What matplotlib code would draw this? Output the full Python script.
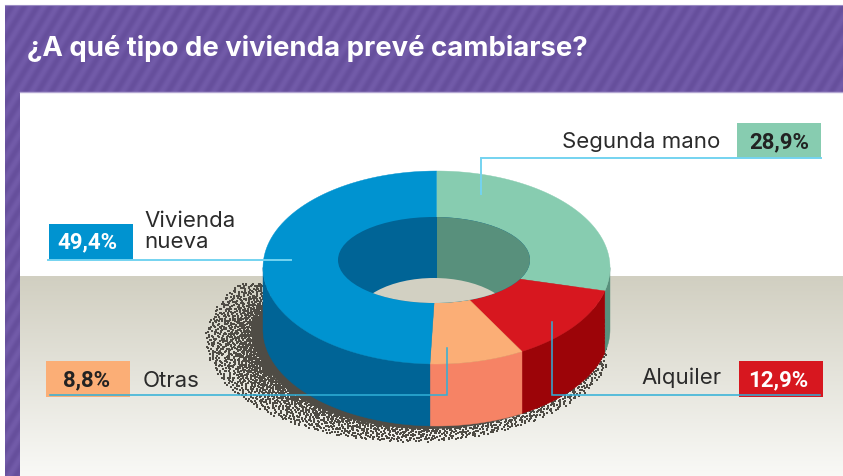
import numpy as np
import matplotlib
matplotlib.use('Agg')
import matplotlib.pyplot as plt
from matplotlib.patches import Ellipse, Rectangle

# chart values
titulo = '¿A qué tipo de vivienda prevé cambiarse?'
categorias = ['Segunda mano', 'Alquiler', 'Otras', 'Vivienda\nnueva']
valores = [28.9, 12.9, 8.8, 49.4]
etiquetas = ['28,9%', '12,9%', '8,8%', '49,4%']

col_top = ['#87ccb0', '#d7171f', '#fbae76', '#0093d0']
col_side = ['#58907c', '#9c0408', '#f68365', '#006496']

# ring geometry in pixels
CX, CY, A, B = 436.5, 267.5, 173.5, 96.5
HX, HY, HA, HB = 434, 260, 96, 43
DEPTH = 62


def arc(t0, t1, dy=0):
    t = np.radians(np.linspace(t0, t1, 80))
    return CX + A * np.sin(t), CY - B * np.cos(t) + dy


def corput(n, base):
    # van der Corput sequence, only used for the speckle texture
    out = np.zeros(len(n))
    f = 1.0 / base
    n = n.copy()
    while n.max() > 0:
        out += f * (n % base)
        n = n // base
        f /= base
    return out


fig = plt.figure(figsize=(8.43, 4.76), dpi=100)
ax = fig.add_axes([0, 0, 1, 1])

# purple frame, soft diagonal stripes
yy, xx = np.mgrid[0:471, 0:838]
onda = 0.5 + 0.5 * np.cos(2 * np.pi * (xx + yy * 0.6) / 13.0)
c_a = np.array([0x66, 0x4f, 0x9c]) / 255
c_b = np.array([0x72, 0x5b, 0xa9]) / 255
ax.imshow(c_a + (c_b - c_a) * onda[..., None], extent=[5, 843, 476, 5], aspect='auto', zorder=0)
ax.add_patch(Rectangle((20, 92), 823, 384, color='white', lw=0, zorder=1))
ax.plot([20, 843], [92, 92], color='#b3a6d2', lw=1, zorder=1.2)
ax.plot([5, 843], [5, 5], color='#9a8bc4', lw=0.8, zorder=1.2)

# floor gradient
grad = np.linspace(0, 1, 200).reshape(-1, 1, 1)
c0 = np.array([0xd1, 0xcf, 0xc1]) / 255
c1 = np.array([0xf9, 0xf9, 0xf6]) / 255
ax.imshow(c0 + (c1 - c0) * grad, extent=[20, 843, 476, 276], aspect='auto', zorder=1.5)
ax.set_xlim(0, 843)
ax.set_ylim(476, 0)
ax.axis('off')

# speckled shadow, dense near the ring and thinning outwards
n = np.arange(1, 14000)
ang = corput(n, 2) * 2 * np.pi
rad = 0.72 + 0.30 * corput(n, 3) ** 3
sx = 410 + 200 * rad * np.cos(ang)
sy = 340 + 100 * rad * np.sin(ang)
keep = (sy > 283) & (sx < 606)
ax.scatter(sx[keep], sy[keep], s=1.2, marker='s', color='#4f4c45', lw=0, zorder=2)
ax.add_patch(Ellipse((428, 336), 2 * 172, 2 * 93, color='#4f4c45', lw=0, zorder=2))

# sides of the ring, then the top face
inicio = 0
for val, top, side in zip(valores, col_top, col_side):
    fin = inicio + val * 3.6
    a0, a1 = max(inicio, 90), min(fin, 270)
    if a1 > a0:
        x, y = arc(a0, a1)
        x2, y2 = arc(a0, a1, DEPTH)
        ax.fill(np.r_[x, x2[::-1]], np.r_[y, y2[::-1]], color=side, lw=0.3, zorder=3)
    x, y = arc(inicio, fin)
    ax.fill(np.r_[CX, x], np.r_[CY, y], color=top, lw=0.3, zorder=4)
    inicio = fin

# hole: inner walls and floor
hole = Ellipse((HX, HY), 2 * HA, 2 * HB, color=col_side[3], lw=0, zorder=5)
ax.add_patch(hole)
der = Rectangle((CX, HY - HB - 2), HA + 5, 2 * HB + 4, color=col_side[0], lw=0, zorder=5.1)
ax.add_patch(der)
der.set_clip_path(hole)
suelo = Ellipse((HX, 321), 2 * 80, 2 * 43, color='#d2d0c2', lw=0, zorder=5.2)
ax.add_patch(suelo)
suelo.set_clip_path(hole)

# title
ax.text(27, 48, titulo, color='white', fontsize=19.8, fontweight='bold',
        family='Inter', va='center', ha='left', zorder=8)

# value boxes, with the centre of each number
cajas = [(737, 123, 84, 35), (739, 361, 84, 36), (46, 361, 84, 36), (49, 224, 84, 36)]
centros = [(779.5, 142), (778, 380), (86.5, 380), (87, 242)]
for (x, y, w, h), (tx, ty), et, top in zip(cajas, centros, etiquetas, col_top):
    ax.add_patch(Rectangle((x, y), w, h, color=top, lw=0, zorder=6))
    tc = 'white' if top in ('#d7171f', '#0093d0') else '#222222'
    ax.text(tx, ty, et, color=tc, fontsize=16, fontweight='bold',
            family='Roboto', ha='center', va='center', zorder=8)

# leader lines
lineas = [([821, 481, 481], [158, 158, 194], '#74d3f0', 1.4),
          ([820, 552, 552], [395, 395, 322], '#2fb0d8', 1.1),
          ([50, 447, 447], [395, 395, 348], '#2fb0d8', 1.1),
          ([48, 291], [260, 260], '#74d3f0', 1.4)]
for lx, ly, lc, lw in lineas:
    ax.plot(lx, ly, color=lc, lw=lw, zorder=7, solid_joinstyle='miter')

# category labels
txt = dict(color='#2b2b2b', fontsize=16, family='Inter', zorder=8)
ax.text(720, 142, categorias[0], ha='right', va='center', **txt)
ax.text(722, 378, categorias[1], ha='right', va='center', **txt)
ax.text(143, 381, categorias[2], ha='left', va='center', **txt)
ax.text(144, 231.5, categorias[3], ha='left', va='center', linespacing=1.05, **txt)

plt.savefig('out.png', dpi=100)
